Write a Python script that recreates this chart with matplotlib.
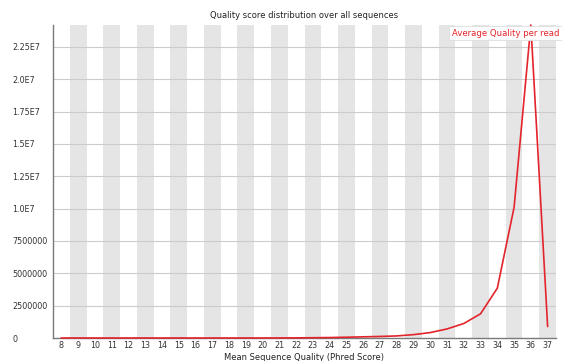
import matplotlib
matplotlib.use("Agg")
import matplotlib.pyplot as plt
from matplotlib.ticker import FixedLocator

# Mean per-read quality (Phred) and number of reads at each score
quality = list(range(8, 38))
read_counts = [
    0, 0, 0, 0, 0, 0, 0, 0, 0, 0,            # 8-17
    0, 0, 0, 5000, 10000, 20000, 35000,      # 18-24
    60000, 90000, 120000, 160000, 260000,    # 25-29
    420000, 700000, 1120000, 1870000, 3850000,  # 30-34
    10100000, 24200000, 900000,              # 35-37
]
y_ticks = [0, 2500000, 5000000, 7500000, 1.0e7, 1.25e7, 1.5e7, 1.75e7, 2.0e7, 2.25e7]
y_tick_labels = ["0", "2500000", "5000000", "7500000", "1.0E7", "1.25E7",
                 "1.5E7", "1.75E7", "2.0E7", "2.25E7"]

fig = plt.figure(figsize=(5.62, 3.61), dpi=100)
ax = fig.add_axes([53 / 562, 23 / 361, 503 / 562, 313 / 361])

n = len(quality)
ax.set_xlim(-0.5, n - 0.5)
ax.set_ylim(0, max(read_counts))

# alternating shaded columns
for i in range(n):
    if i % 2 == 1:
        ax.axvspan(i - 0.5, i + 0.5, color="#e5e5e5", lw=0, zorder=0)

# horizontal grid
for v in y_ticks[1:]:
    ax.axhline(v, color="#cccccc", lw=0.8, zorder=1)

ax.plot(range(n), read_counts, color="#e3242b", lw=1.2, zorder=3, clip_on=False)

ax.set_xticks(range(n))
ax.set_xticklabels([str(q) for q in quality], fontsize=5.8, color="#333333")
ax.yaxis.set_major_locator(FixedLocator(y_ticks))
ax.set_yticklabels(y_tick_labels, fontsize=5.8, color="#333333")
ax.tick_params(axis="both", length=0)
ax.tick_params(axis="x", pad=2.5)
ax.tick_params(axis="y", pad=29.5)
for lab in ax.get_yticklabels():
    lab.set_horizontalalignment("left")

for side in ("top", "right"):
    ax.spines[side].set_visible(False)
for side in ("left", "bottom"):
    ax.spines[side].set_color("#7a7a7a")
    ax.spines[side].set_linewidth(1.0)

ax.set_xlabel("Mean Sequence Quality (Phred Score)", fontsize=6, color="#222222", labelpad=1.5)
fig.text((53 + 556) / 2 / 562, 1 - 16 / 361, "Quality score distribution over all sequences",
         ha="center", va="center", fontsize=6, color="#222222")

fig.text(559 / 562, 1 - 33 / 361, "Average Quality per read",
         ha="right", va="center", fontsize=6.1, color="#e3242b", zorder=5,
         bbox=dict(boxstyle="square,pad=0.3", fc="white", ec="#dddddd", lw=0.6))

fig.savefig("out.png", dpi=100)
